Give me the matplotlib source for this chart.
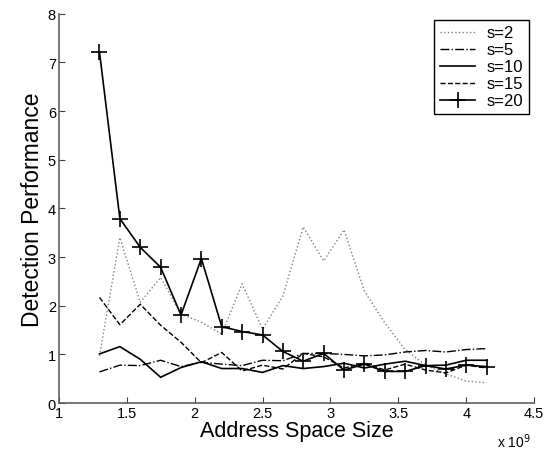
import numpy as np
import matplotlib
matplotlib.use("Agg")
import matplotlib.pyplot as plt

plt.rcParams['font.family'] = ['Liberation Sans', 'DejaVu Sans']

# address space size (x 1e9)
size = [1.3, 1.45, 1.6, 1.75, 1.9, 2.05, 2.2, 2.35, 2.5, 2.65,
        2.8, 2.95, 3.1, 3.25, 3.4, 3.55, 3.7, 3.85, 4.0, 4.15]

s2 = [0.97, 3.40, 2.07, 2.58, 1.83, 1.66, 1.42, 2.45, 1.52, 2.20,
      3.62, 2.92, 3.56, 2.30, 1.65, 1.10, 0.78, 0.60, 0.45, 0.42]
s5 = [0.64, 0.78, 0.77, 0.88, 0.75, 0.84, 0.80, 0.77, 0.88, 0.87,
      1.02, 1.02, 1.00, 0.97, 0.99, 1.05, 1.08, 1.05, 1.10, 1.12]
s10 = [1.01, 1.16, 0.90, 0.53, 0.73, 0.85, 0.71, 0.71, 0.63, 0.77,
       0.71, 0.75, 0.82, 0.72, 0.80, 0.86, 0.77, 0.78, 0.88, 0.88]
s15 = [2.17, 1.61, 2.03, 1.60, 1.25, 0.83, 1.04, 0.66, 0.78, 0.70,
       1.02, 0.95, 0.72, 0.82, 0.68, 0.80, 0.68, 0.62, 0.78, 0.72]
s20 = [7.21, 3.79, 3.20, 2.79, 1.81, 2.97, 1.57, 1.47, 1.40, 1.06,
       0.86, 1.02, 0.68, 0.80, 0.65, 0.65, 0.77, 0.70, 0.78, 0.75]

fig = plt.figure(figsize=(5.49, 4.52), dpi=100)
ax = fig.add_axes([0.107, 0.106, 0.866, 0.8615])

ax.plot(size, s2, ':', color='#808080', lw=1, label='s=2')
ax.plot(size, s5, '-.', color='black', lw=1, label='s=5')
ax.plot(size, s10, '-', color='black', lw=1.2, label='s=10')
ax.plot(size, s15, '--', color='black', lw=1, label='s=15')
ax.plot(size, s20, '-', color='black', lw=1.2, marker='+', ms=11, mew=1.2,
        label='s=20')

ax.set_xlim(1, 4.5)
ax.set_ylim(0, 8)
ax.set_xticks(np.arange(1, 4.51, 0.5))
ax.set_xticklabels(['1', '1.5', '2', '2.5', '3', '3.5', '4', '4.5'])
ax.set_yticks(range(0, 9))

for side in ['top', 'right']:
    ax.spines[side].set_visible(False)
for side in ['left', 'bottom']:
    ax.spines[side].set_color('#606060')
    ax.spines[side].set_linewidth(1.2)
ax.tick_params(direction='in', length=4, color='#404040', labelsize=10.5,
               pad=2)

ax.set_xlabel('Address Space Size', fontsize=15.5, labelpad=0)
ax.set_ylabel('Detection Performance', fontsize=16.5, labelpad=3)
fig.text(0.905, 0.008, r'x 10$^{9}$', fontsize=10)

leg = ax.legend(loc='upper right', bbox_to_anchor=(0.99, 0.985),
                fontsize=12, handlelength=2.1, borderpad=0.35,
                labelspacing=0.12, handletextpad=0.7, fancybox=False,
                framealpha=1, borderaxespad=0)
leg.get_frame().set_edgecolor('black')
leg.get_frame().set_linewidth(1)

fig.savefig('out.png', dpi=100)
